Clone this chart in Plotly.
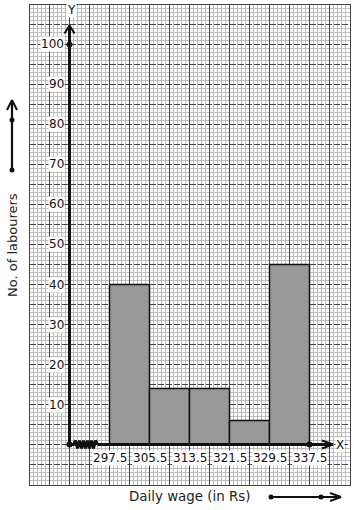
import plotly.graph_objects as go

# ---------------- data ----------------
class_bounds = [297.5, 305.5, 313.5, 321.5, 329.5, 337.5]
labourers = [40, 14, 14, 6, 45]
y_tick_vals = [10, 20, 30, 40, 50, 60, 70, 80, 90, 100]
x_tick_labels = ["297.5", "305.5", "313.5", "321.5", "329.5", "337.5"]

# ---------------- layout constants ----------------
W, H = 354, 510
X_RANGE = [281.5, 345.5]
Y_RANGE = [-10, 110]
DOM_X = [29.5 / W, 349.5 / W]
DOM_Y = [25.5 / H, 505.5 / H]
FONT = "DejaVu Sans"
INK = "#111111"

cw = class_bounds[1] - class_bounds[0]
mids = [(a + b) / 2 for a, b in zip(class_bounds[:-1], class_bounds[1:])]
origin_x = class_bounds[0] - cw  # position of the Y axis

fig = go.Figure()

fig.add_trace(go.Bar(
    x=mids, y=labourers, width=[cw] * len(mids),
    marker=dict(color="#999999", line=dict(color=INK, width=1.5)),
    hoverinfo="skip",
))

# Y axis with arrow head
y_tip = 104.75
fig.add_trace(go.Scatter(x=[origin_x, origin_x], y=[0, y_tip], mode="lines",
                         line=dict(color=INK, width=3), hoverinfo="skip"))
fig.add_trace(go.Scatter(x=[origin_x - 1, origin_x, origin_x + 1],
                         y=[y_tip - 2, y_tip, y_tip - 2], mode="lines",
                         line=dict(color=INK, width=2), hoverinfo="skip"))

# X axis with kink and arrow head
x_tip = 342.2
zz_start, zz_end = origin_x + 0.8, class_bounds[0] - 2.4
n_half = 12
zx = [zz_start + (zz_end - zz_start) * i / n_half for i in range(n_half + 1)]
zy = [0 if i in (0, n_half) else (1.0 if i % 2 else -1.0) for i in range(n_half + 1)]
fig.add_trace(go.Scatter(x=[origin_x] + zx, y=[0] + zy, mode="lines",
                         line=dict(color=INK, width=3), hoverinfo="skip"))
fig.add_trace(go.Scatter(x=[zz_end, x_tip], y=[0, 0], mode="lines",
                         line=dict(color=INK, width=3), hoverinfo="skip"))
fig.add_trace(go.Scatter(x=[x_tip - 2.2, x_tip, x_tip - 2.2], y=[1, 0, -1], mode="lines",
                         line=dict(color=INK, width=2), hoverinfo="skip"))

# dots
fig.add_trace(go.Scatter(x=[origin_x, origin_x, class_bounds[-1]], y=[0, 100, 0],
                         mode="markers", marker=dict(color=INK, size=6),
                         hoverinfo="skip", cliponaxis=False))

annotations = []
for v in y_tick_vals:
    annotations.append(dict(x=origin_x, y=v, xref="x", yref="y", text=str(v),
                            showarrow=False, xanchor="right", yanchor="middle",
                            xshift=-5, bgcolor="white", borderpad=0,
                            font=dict(family=FONT, size=12, color=INK)))
for b, lab in zip(class_bounds, x_tick_labels):
    annotations.append(dict(x=b, y=0, xref="x", yref="y", text=lab,
                            showarrow=False, xanchor="center", yanchor="middle",
                            yshift=-13, bgcolor="white", borderpad=0,
                            font=dict(family=FONT, size=12, color=INK)))
annotations.append(dict(x=origin_x + 0.3, y=108.5, xref="x", yref="y", text="Y",
                        showarrow=False, bgcolor="white", borderpad=0,
                        xanchor="center", yanchor="middle",
                        font=dict(family=FONT, size=12, color=INK)))
annotations.append(dict(x=343.6, y=0, xref="x", yref="y", text="X",
                        showarrow=False, bgcolor="white", borderpad=0,
                        xanchor="center", yanchor="middle",
                        font=dict(family=FONT, size=12, color=INK)))


def pxx(p):
    return p / W


def pxy(p):
    return 1 - p / H


annotations.append(dict(x=pxx(12), y=pxy(245), xref="paper", yref="paper",
                        text="No. of labourers", textangle=-90, showarrow=False,
                        xanchor="center", yanchor="middle",
                        font=dict(family=FONT, size=13, color="#222222")))
annotations.append(dict(x=pxx(189), y=pxy(496), xref="paper", yref="paper",
                        text="Daily wage (in Rs)", showarrow=False,
                        xanchor="center", yanchor="middle",
                        font=dict(family=FONT, size=13.4, color="#222222")))

shapes = []


def pline(x0, y0, x1, y1, w=2.2):
    shapes.append(dict(type="line", xref="paper", yref="paper",
                       x0=pxx(x0), y0=pxy(y0), x1=pxx(x1), y1=pxy(y1),
                       line=dict(color=INK, width=w)))


def pdot(x, y, r=2.5):
    shapes.append(dict(type="circle", xref="paper", yref="paper",
                       x0=pxx(x - r), x1=pxx(x + r), y0=pxy(y - r), y1=pxy(y + r),
                       fillcolor=INK, line=dict(color=INK, width=0)))


# left vertical arrow
pline(12, 170, 12, 101)
pline(7, 110, 12, 100, 2)
pline(17, 110, 12, 100, 2)
pdot(12, 120)
pdot(12, 170)
# bottom horizontal arrow
pline(271, 497, 340, 497)
pline(330, 493, 341, 497, 2)
pline(330, 501, 341, 497, 2)
pdot(271, 497)
pdot(321, 497)

fig.update_layout(
    width=W, height=H, margin=dict(l=0, r=0, t=0, b=0),
    paper_bgcolor="white", plot_bgcolor="white", showlegend=False,
    annotations=annotations, shapes=shapes,
    xaxis=dict(domain=DOM_X, range=X_RANGE, showticklabels=False, ticks="",
               zeroline=False, tick0=X_RANGE[0], dtick=cw / 2,
               showgrid=True, gridcolor="#444444", gridwidth=1, griddash="solid",
               minor=dict(tick0=X_RANGE[0], dtick=cw / 10, showgrid=True,
                          gridcolor="#bdbdbd", gridwidth=1, griddash="solid"),
               showline=True, mirror=True, linecolor="#444444", linewidth=1,
               fixedrange=True),
    yaxis=dict(domain=DOM_Y, range=Y_RANGE, showticklabels=False, ticks="",
               zeroline=False, tick0=0, dtick=5,
               showgrid=True, gridcolor="#444444", gridwidth=1, griddash="6px,2px",
               minor=dict(tick0=0, dtick=1, showgrid=True,
                          gridcolor="#bdbdbd", gridwidth=1, griddash="solid"),
               showline=True, mirror=True, linecolor="#444444", linewidth=1,
               fixedrange=True),
)

fig.write_html("out.html")
